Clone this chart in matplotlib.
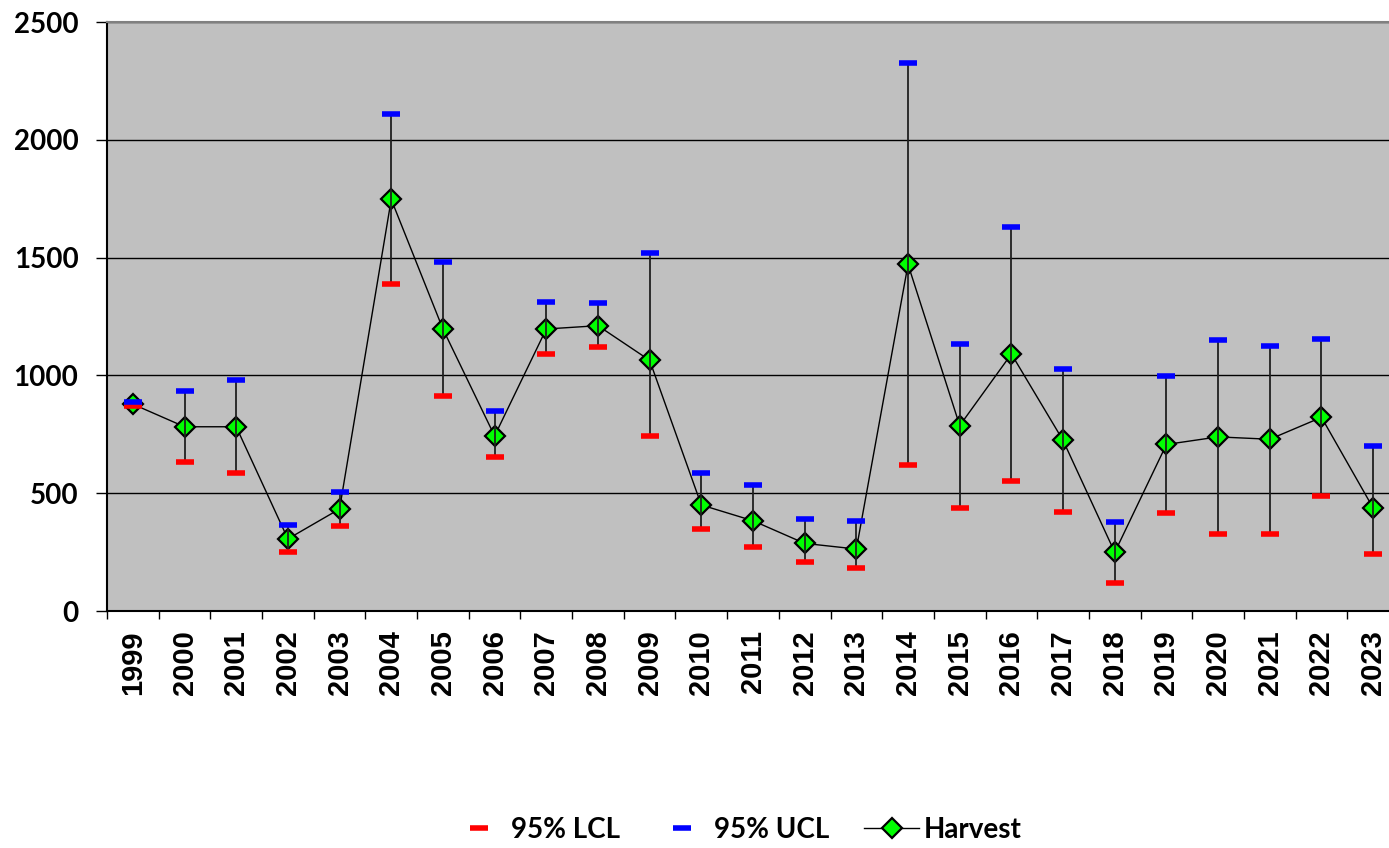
import matplotlib.pyplot as plt
from matplotlib.lines import Line2D

# Data
years = [str(y) for y in range(1999, 2024)]
harvest = [878, 782, 782, 306, 433, 1747, 1197, 743, 1197, 1211, 1064, 450, 383,
           287, 263, 1471, 787, 1091, 724, 249, 707, 739, 729, 822, 437]
lcl = [870, 631, 584, 249, 360, 1388, 911, 654, 1092, 1121, 743, 348, 273,
       209, 181, 620, 436, 552, 422, 120, 415, 325, 325, 489, 242]
ucl = [885, 934, 980, 364, 505, 2109, 1483, 849, 1313, 1307, 1520, 584, 533,
       390, 381, 2325, 1133, 1630, 1026, 379, 997, 1149, 1126, 1155, 702]
yticks = [0, 500, 1000, 1500, 2000, 2500]

x = list(range(len(years)))

fig = plt.figure(figsize=(13.89, 8.48), dpi=100)
# plot area runs slightly past the right edge of the image, as in the original
ax = fig.add_axes([107 / 1389, 1 - 611 / 848, (1399 - 107) / 1389, (611 - 22) / 848])
ax.set_facecolor('#C0C0C0')

# gridlines
for v in yticks[1:]:
    ax.axhline(v, color='black', linewidth=1, zorder=1)

# harvest line with diamonds
ax.plot(x, harvest, color='black', linewidth=1, marker='D', markersize=10,
        markerfacecolor='#00FF00', markeredgecolor='black', markeredgewidth=1.6,
        zorder=3)

# high-low lines
ax.vlines(x, lcl, ucl, color='#202020', linewidth=1.3, zorder=4)

# confidence limit dashes
ax.plot(x, lcl, linestyle='none', marker='_', markersize=12.5, markeredgewidth=4,
        color='#FF0000', zorder=5)
ax.plot(x, ucl, linestyle='none', marker='_', markersize=12.5, markeredgewidth=4,
        color='#0000FF', zorder=5)

ax.set_xlim(-0.5, len(years) - 0.5)
ax.set_ylim(0, 2500)

# x axis: labels at categories, ticks between
ax.set_xticks(x)
ax.set_xticklabels(years, rotation=90, fontsize=21, fontweight='bold',
                   family='Liberation Sans')
ax.tick_params(axis='x', which='major', length=0, pad=14)
ax.set_xticks([i - 0.5 for i in range(len(years) + 1)], minor=True)
ax.tick_params(axis='x', which='minor', length=6, width=1, direction='out')

ax.set_yticks(yticks)
ax.set_yticklabels([str(v) for v in yticks], fontsize=20, fontweight='bold',
                   family='Lato')
ax.tick_params(axis='y', length=8, width=1, direction='out', pad=12.5)

for side in ['left', 'bottom']:
    ax.spines[side].set_color('black')
    ax.spines[side].set_linewidth(1.5)
ax.spines['top'].set_color('#808080')
ax.spines['top'].set_linewidth(1.5)
ax.spines['right'].set_visible(False)

handles = [
    Line2D([], [], linestyle='none', marker='_', markersize=12.5,
           markeredgewidth=4, color='#FF0000'),
    Line2D([], [], linestyle='none', marker='_', markersize=12.5,
           markeredgewidth=4, color='#0000FF'),
    Line2D([], [], color='black', linewidth=1, marker='D', markersize=10,
           markerfacecolor='#00FF00', markeredgecolor='black',
           markeredgewidth=1.6),
]
fig.legend(handles, ['95% LCL', '95% UCL', 'Harvest'], loc='center',
           bbox_to_anchor=(0.530, 1 - 830 / 848), ncol=3, frameon=False,
           prop={'family': 'Lato', 'weight': 'bold', 'size': 20},
           handlelength=2.0, columnspacing=1.25, handletextpad=0.15)

fig.savefig('out.png', dpi=100)
